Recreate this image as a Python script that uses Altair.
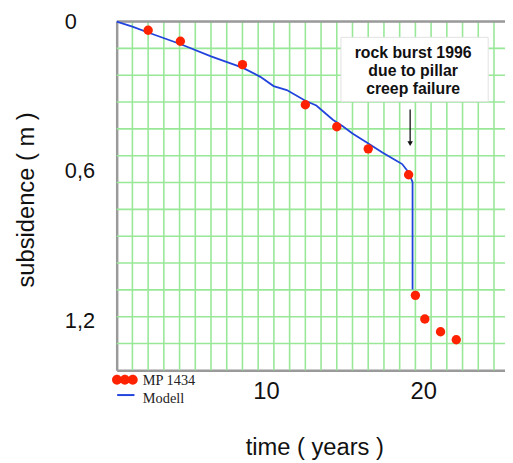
import altair as alt
import pandas as pd

# ---- data ----
mp_years = [2.0, 4.05, 8.0, 12.0, 14.0, 16.0, 18.57, 19.0, 19.6, 20.6, 21.6]
mp_subsidence = [0.035, 0.079, 0.173, 0.334, 0.422, 0.511, 0.615, 1.099, 1.194, 1.245, 1.277]

model_years = [0.0, 1.0, 2.0, 4.04, 6.0, 8.0, 9.14, 9.98, 10.82, 12.03, 12.7, 13.75,
               14.38, 15.0, 15.96, 16.9, 17.74, 18.16, 18.57, 18.82, 18.82]
model_subsidence = [0.0, 0.02, 0.044, 0.090, 0.140, 0.185, 0.222, 0.259, 0.275, 0.319, 0.337, 0.394,
                    0.420, 0.449, 0.487, 0.526, 0.557, 0.572, 0.606, 0.645, 1.075]

x_tick_labels = [10, 20]
y_tick_labels = [0, 0.6, 1.2]
x_grid = list(range(1, 25))
y_grid = [k * 1.4 / 13 for k in range(1, 13)]

legend_names = ["MP 1434", "Modell"]
annotation_lines = ["rock burst 1996", "due to pillar", "creep failure"]
x_title = "time ( years )"
y_title = "subsidence ( m )"

# ---- styling ----
RED = "#ff2200"
BLUE = "#2244dd"
GRID = "#98e898"
FRAME = "#9a9a9a"
FONT = "Liberation Sans"
W, H = 393, 353
XMAX, YMAX = 24.7, 1.4

xs = alt.Scale(domain=[0, XMAX], nice=False, zero=False)
ys = alt.Scale(domain=[0, YMAX], nice=False, zero=False, reverse=True)

x_axis = alt.Axis(values=x_tick_labels, grid=False, ticks=False, tickSize=0,
                  domainColor=FRAME, domainWidth=2.5,
                  labelFont=FONT, labelFontSize=24, labelColor="#111",
                  labelPadding=21, labelBaseline="middle", labelOffset=-8,
                  labelFlush=False,
                  title=x_title, titleFont=FONT, titleFontSize=24,
                  titleFontWeight="normal", titleColor="#111",
                  titleX=200, titleY=78, titleBaseline="middle", titleAlign="center")
y_axis = alt.Axis(values=y_tick_labels, grid=False, ticks=False, tickSize=0,
                  domainColor=FRAME, domainWidth=2.5,
                  labelExpr="replace(format(datum.value, '.1~f'), '.', ',')",
                  labelFont=FONT, labelFontSize=22, labelColor="#111",
                  labelAlign="left", labelPadding=53, labelBaseline="middle",
                  labelFlush=False,
                  title=y_title, titleFont=FONT, titleFontSize=24,
                  titleFontWeight="normal", titleColor="#111",
                  titleX=-91, titleY=180, titleAngle=270,
                  titleBaseline="middle", titleAlign="center")

mp_df = pd.DataFrame({"year": mp_years, "subs": mp_subsidence})
model_df = pd.DataFrame({"year": model_years, "subs": model_subsidence,
                         "order": list(range(len(model_years)))})

line = alt.Chart(model_df).mark_line(color=BLUE, strokeWidth=1.8).encode(
    x=alt.X("year:Q", scale=xs, axis=x_axis),
    y=alt.Y("subs:Q", scale=ys, axis=y_axis),
    order="order:Q")

points = alt.Chart(mp_df).mark_circle(color=RED, size=90, opacity=1).encode(
    x=alt.X("year:Q", scale=xs, axis=x_axis),
    y=alt.Y("subs:Q", scale=ys, axis=y_axis))

xgrid = alt.Chart(pd.DataFrame({"year": x_grid})).mark_rule(
    color=GRID, strokeWidth=1.6).encode(x=alt.X("year:Q", scale=xs, axis=x_axis))
ygrid = alt.Chart(pd.DataFrame({"subs": y_grid})).mark_rule(
    color=GRID, strokeWidth=1.6).encode(y=alt.Y("subs:Q", scale=ys, axis=y_axis))
top_border = alt.Chart(pd.DataFrame({"subs": [0]})).mark_rule(
    color=FRAME, strokeWidth=2.5).encode(y=alt.Y("subs:Q", scale=ys, axis=y_axis))

one = pd.DataFrame({"k": [0]})

box = alt.Chart(one).mark_rect(fill="white", stroke="#e2e2e2", strokeWidth=1).encode(
    x=alt.value(227), x2=alt.value(376), y=alt.value(16), y2=alt.value(81))
note = alt.Chart(one).mark_text(font=FONT, fontSize=16, fontWeight="bold",
                                color="#111", align="center", baseline="middle",
                                lineHeight=18).encode(
    x=alt.value(300), y=alt.value(32), text=alt.value(annotation_lines))
arrow = alt.Chart(one).mark_rule(color="#111", strokeWidth=1.3).encode(
    x=alt.value(297), y=alt.value(89), y2=alt.value(122))
arrow_head = alt.Chart(one).mark_point(shape="triangle-down", filled=True,
                                       color="#111", size=30, opacity=1).encode(
    x=alt.value(297), y=alt.value(123.5))


def circ(cx, r):
    return (f"M {cx - r} 0 A {r} {r} 0 1 0 {cx + r} 0 "
            f"A {r} {r} 0 1 0 {cx - r} 0 Z")


three_dots = " ".join(circ(c, 0.385) for c in (-0.615, 0.0, 0.615))

leg_dots = alt.Chart(one).mark_point(shape=three_dots, filled=True, color=RED,
                                     size=676, opacity=1).encode(
    x=alt.value(8.3), y=alt.value(362.5))
leg_line = alt.Chart(one).mark_rule(color=BLUE, strokeWidth=2).encode(
    x=alt.value(0.5), x2=alt.value(18), y=alt.value(378))
leg_text1 = alt.Chart(one).mark_text(font="Liberation Serif", fontSize=14.5,
                                     color="#222", align="left", baseline="middle").encode(
    x=alt.value(26.5), y=alt.value(363.5), text=alt.value(legend_names[0]))
leg_text2 = alt.Chart(one).mark_text(font="Liberation Serif", fontSize=14.5,
                                     color="#222", align="left", baseline="middle").encode(
    x=alt.value(26.5), y=alt.value(382), text=alt.value(legend_names[1]))

chart = alt.layer(
    xgrid, ygrid, top_border, line, points, box, note, arrow, arrow_head,
    leg_dots, leg_line, leg_text1, leg_text2
).properties(
    width=W, height=H,
    autosize=alt.AutoSizeParams(type="none"),
    padding={"left": 110, "top": 11, "right": 0, "bottom": 88},
).configure_view(stroke=None).configure(background="white")

chart.save("out.html", embed_options={"renderer": "svg", "actions": False})
